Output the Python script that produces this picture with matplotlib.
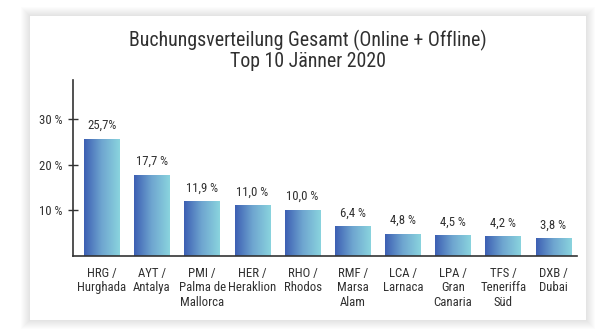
import numpy as np
import matplotlib
matplotlib.use("Agg")
import matplotlib.pyplot as plt
from matplotlib import font_manager as fm
from matplotlib.colors import LinearSegmentedColormap
from matplotlib.patches import Rectangle

# data
codes = ["HRG", "AYT", "PMI", "HER", "RHO", "RMF", "LCA", "LPA", "TFS", "DXB"]
cities = ["Hurghada", "Antalya", "Palma de\nMallorca", "Heraklion", "Rhodos",
          "Marsa\nAlam", "Larnaca", "Gran\nCanaria", "Teneriffa\nSüd", "Dubai"]
shares = [25.7, 17.7, 11.9, 11.0, 10.0, 6.4, 4.8, 4.5, 4.2, 3.8]
value_labels = ["25,7%", "17,7 %", "11,9 %", "11,0 %", "10,0 %",
                "6,4 %", "4,8 %", "4,5 %", "4,2 %", "3,8 %"]
y_ticks = [10, 20, 30]
y_tick_labels = ["10 %", "20 %", "30 %"]


# look for a narrow regular face, the original uses a condensed DIN-like font
def find_narrow():
    best = None
    for f in fm.fontManager.ttflist:
        st = f.stretch
        narrow = ("Narrow" in f.name or "Condensed" in f.name
                  or (isinstance(st, str) and st.endswith("condensed") and "extra" not in st and "ultra" not in st)
                  or (isinstance(st, int) and 300 <= st < 500))
        if not narrow or f.style != "normal" or f.weight not in (400, "normal", "regular", "book"):
            continue
        rank = 0 if "Liberation" in f.name else 1 if "Roboto" in f.name else 2 if "Noto" in f.name else 3
        if best is None or rank < best[0]:
            best = (rank, f.fname)
    return best[1] if best else None


narrow_path = find_narrow()
if narrow_path:
    def fp(size):
        return fm.FontProperties(fname=narrow_path, size=size)
    T_SIZE, L_SIZE = 14.3, 9.2
else:
    def fp(size):
        return fm.FontProperties(family="Roboto", size=size)
    T_SIZE, L_SIZE = 12.5, 8.0

TXT = "#303030"
W, H = 613, 330
fig = plt.figure(figsize=(W / 100, H / 100), dpi=100)
fig.patch.set_facecolor("white")

# card with soft shadow
cx0, cy0, cx1, cy1 = 30, 16, 586, 320
for i in range(9, 0, -1):
    fig.patches.append(Rectangle(((cx0 - i) / W, 1 - (cy1 + i) / H),
                                 (cx1 - cx0 + 2 * i) / W, (cy1 - cy0 + 2 * i) / H,
                                 transform=fig.transFigure, facecolor="black",
                                 alpha=0.013, edgecolor="none", zorder=-2))
fig.patches.append(Rectangle((cx0 / W, 1 - cy1 / H), (cx1 - cx0) / W, (cy1 - cy0) / H,
                             transform=fig.transFigure, facecolor="white",
                             edgecolor="none", zorder=-1))

# title
fig.text(308 / W, 1 - 46 / H, "Buchungsverteilung Gesamt (Online + Offline)",
         ha="center", va="baseline", fontproperties=fp(T_SIZE), color=TXT)
fig.text(308 / W, 1 - 67 / H, "Top 10 Jänner 2020",
         ha="center", va="baseline", fontproperties=fp(T_SIZE), color=TXT)

ax = fig.add_axes([72.7 / W, 1 - 255.7 / H, (577 - 72.7) / W, (255.7 - 80) / H])
ax.set_facecolor("none")

x = np.arange(len(codes))
bars = ax.bar(x, shares, width=0.71, color="none", zorder=2)

cmap = LinearSegmentedColormap.from_list("bar", ["#3d5fb3", "#6fa6d0", "#8ad4de"])
grad = np.linspace(0, 1, 256).reshape(1, -1)
for b in bars:
    x0, w, h = b.get_x(), b.get_width(), b.get_height()
    ax.imshow(grad, cmap=cmap, extent=[x0, x0 + w, 0, h], aspect="auto", zorder=2)

for xi, v, lab in zip(x, shares, value_labels):
    ax.annotate(lab, (xi, v), xytext=(0, 5), textcoords="offset points",
                ha="center", va="bottom", fontproperties=fp(L_SIZE), color=TXT)

ax.set_xlim(-0.58, 9.47)
ax.set_ylim(0, 38.6)

ax.set_xticks(x)
ax.set_xticklabels([f"{c} /\n{n}" for c, n in zip(codes, cities)],
                   fontproperties=fp(L_SIZE), color=TXT, linespacing=1.15)
ax.tick_params(axis="x", length=0, pad=8)

ax.set_yticks(y_ticks)
ax.set_yticklabels(y_tick_labels, fontproperties=fp(L_SIZE), color=TXT)
ax.tick_params(axis="y", direction="inout", length=7, width=1, color="#333333", pad=4)

for s in ["top", "right"]:
    ax.spines[s].set_visible(False)
for s in ["left", "bottom"]:
    ax.spines[s].set_color("#333333")
    ax.spines[s].set_linewidth(1.2)

fig.savefig("out.png", dpi=100, facecolor=fig.get_facecolor())
